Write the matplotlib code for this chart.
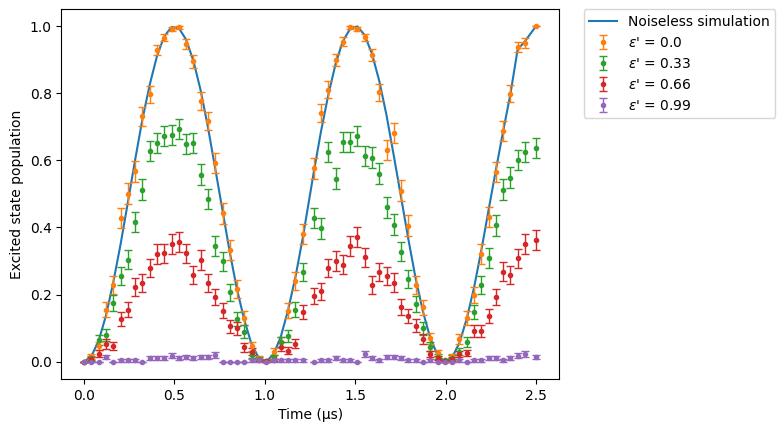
import numpy as np
import matplotlib
matplotlib.use("Agg")
import matplotlib.pyplot as plt

# time points (us)
time_us = [0.000, 0.040, 0.081, 0.121, 0.161, 0.202, 0.242, 0.282, 0.322, 0.363,
           0.403, 0.443, 0.484, 0.524, 0.564, 0.605, 0.645, 0.685, 0.725, 0.766,
           0.806, 0.846, 0.887, 0.927, 0.967, 1.008, 1.048, 1.088, 1.128, 1.169,
           1.209,
           1.270, 1.310, 1.351, 1.391, 1.431, 1.472, 1.512, 1.552, 1.592, 1.633,
           1.673, 1.713, 1.754, 1.794, 1.834, 1.875, 1.915, 1.955, 1.995, 2.036,
           2.076, 2.116, 2.157, 2.197, 2.237, 2.278, 2.318, 2.358, 2.398, 2.439,
           2.500]

noiseless = [0.000, 0.016, 0.063, 0.137, 0.235, 0.350, 0.474, 0.600, 0.720, 0.825,
             0.910, 0.969, 0.997, 0.994, 0.960, 0.896, 0.808, 0.699, 0.577, 0.450,
             0.326, 0.215, 0.123, 0.051, 0.011, 0.001, 0.022, 0.074, 0.153, 0.252,
             0.367,
             0.563, 0.685, 0.795, 0.887, 0.955, 0.992, 0.999, 0.973, 0.918, 0.836,
             0.734, 0.614, 0.488, 0.364, 0.248, 0.148, 0.070, 0.020, 0.000, 0.013,
             0.056, 0.127, 0.221, 0.331, 0.451, 0.572, 0.687, 0.797, 0.930, 0.955,
             1.000]

pop_00 = [0.000, 0.016, 0.047, 0.155, 0.229, 0.428, 0.500, 0.567, 0.731, 0.797,
          0.929, 0.965, 0.990, 0.996, 0.947, 0.895, 0.777, 0.717, 0.592, 0.442,
          0.333, 0.216, 0.130, 0.046, 0.011, 0.002, 0.030, 0.060, 0.152, 0.241,
          0.380,
          0.576, 0.740, 0.810, 0.899, 0.953, 0.996, 0.990, 0.966, 0.914, 0.803,
          0.631, 0.681, 0.509, 0.405, 0.229, 0.162, 0.070, 0.026, 0.001, 0.016,
          0.068, 0.131, 0.199, 0.321, 0.431, 0.565, 0.688, 0.798, 0.938, 0.950,
          1.000]
err_00 = [0.000, 0.008, 0.013, 0.023, 0.026, 0.031, 0.031, 0.031, 0.028, 0.025,
          0.016, 0.011, 0.006, 0.004, 0.014, 0.019, 0.026, 0.028, 0.031, 0.031,
          0.029, 0.026, 0.021, 0.013, 0.007, 0.003, 0.011, 0.015, 0.022, 0.027,
          0.030,
          0.031, 0.027, 0.025, 0.019, 0.013, 0.004, 0.006, 0.011, 0.018, 0.025,
          0.030, 0.029, 0.031, 0.031, 0.026, 0.023, 0.016, 0.010, 0.002, 0.008,
          0.016, 0.021, 0.025, 0.029, 0.031, 0.031, 0.029, 0.025, 0.015, 0.014,
          0.000]

pop_33 = [0.000, 0.010, 0.065, 0.080, 0.175, 0.256, 0.304, 0.416, 0.512, 0.628,
          0.651, 0.673, 0.676, 0.693, 0.648, 0.652, 0.557, 0.485, 0.345, 0.299,
          0.207, 0.128, 0.090, 0.021, 0.009, 0.003, 0.014, 0.060, 0.077, 0.155,
          0.267,
          0.428, 0.398, 0.626, 0.545, 0.655, 0.655, 0.673, 0.613, 0.608, 0.560,
          0.460, 0.408, 0.328, 0.247, 0.172, 0.100, 0.045, 0.015, 0.005, 0.012,
          0.030, 0.059, 0.148, 0.228, 0.309, 0.407, 0.512, 0.548, 0.601, 0.624,
          0.636]
err_33 = [0.000, 0.006, 0.015, 0.017, 0.024, 0.027, 0.029, 0.031, 0.031, 0.030,
          0.030, 0.029, 0.029, 0.029, 0.030, 0.030, 0.031, 0.031, 0.030, 0.029,
          0.025, 0.021, 0.018, 0.009, 0.006, 0.003, 0.007, 0.015, 0.017, 0.023,
          0.028,
          0.031, 0.031, 0.030, 0.031, 0.030, 0.030, 0.029, 0.030, 0.031, 0.031,
          0.031, 0.031, 0.029, 0.027, 0.024, 0.019, 0.013, 0.008, 0.004, 0.007,
          0.011, 0.015, 0.022, 0.026, 0.029, 0.031, 0.031, 0.031, 0.031, 0.030,
          0.030]

pop_66 = [0.000, 0.008, 0.024, 0.053, 0.047, 0.128, 0.155, 0.223, 0.235, 0.279,
          0.321, 0.323, 0.350, 0.357, 0.323, 0.259, 0.303, 0.234, 0.193, 0.152,
          0.105, 0.099, 0.043, 0.030, 0.005, 0.003, 0.005, 0.045, 0.033, 0.054,
          0.148,
          0.196, 0.210, 0.279, 0.300, 0.289, 0.345, 0.372, 0.311, 0.228, 0.267,
          0.255, 0.236, 0.163, 0.136, 0.107, 0.068, 0.022, 0.011, 0.003, 0.008,
          0.022, 0.026, 0.091, 0.091, 0.137, 0.193, 0.268, 0.258, 0.308, 0.350,
          0.362]
err_66 = [0.000, 0.006, 0.010, 0.014, 0.013, 0.021, 0.023, 0.026, 0.026, 0.028,
          0.029, 0.029, 0.030, 0.030, 0.029, 0.027, 0.029, 0.026, 0.025, 0.022,
          0.019, 0.019, 0.013, 0.011, 0.004, 0.003, 0.004, 0.013, 0.011, 0.014,
          0.022,
          0.025, 0.025, 0.028, 0.029, 0.028, 0.030, 0.030, 0.029, 0.026, 0.028,
          0.027, 0.027, 0.023, 0.021, 0.019, 0.016, 0.009, 0.007, 0.003, 0.006,
          0.009, 0.010, 0.018, 0.018, 0.021, 0.025, 0.028, 0.027, 0.029, 0.030,
          0.030]

pop_99 = [0.000, 0.000, 0.000, 0.014, 0.000, 0.004, 0.004, 0.004, 0.000, 0.010,
          0.010, 0.010, 0.018, 0.010, 0.014, 0.010, 0.014, 0.014, 0.019, 0.000,
          0.000, 0.000, 0.000, 0.004, 0.004, 0.000, 0.004, 0.004, 0.004, 0.004,
          0.004,
          0.000, 0.004, 0.004, 0.010, 0.004, 0.004, 0.000, 0.023, 0.010, 0.004,
          0.014, 0.014, 0.010, 0.004, 0.004, 0.000, 0.004, 0.000, 0.000, 0.000,
          0.004, 0.000, 0.004, 0.004, 0.010, 0.010, 0.004, 0.010, 0.018, 0.023,
          0.014]
err_99 = [0.000, 0.000, 0.000, 0.007, 0.000, 0.004, 0.004, 0.004, 0.000, 0.006,
          0.006, 0.006, 0.008, 0.006, 0.007, 0.006, 0.007, 0.007, 0.009, 0.000,
          0.000, 0.000, 0.000, 0.004, 0.004, 0.000, 0.004, 0.004, 0.004, 0.004,
          0.004,
          0.000, 0.004, 0.004, 0.006, 0.004, 0.004, 0.000, 0.009, 0.006, 0.004,
          0.007, 0.007, 0.006, 0.004, 0.004, 0.000, 0.004, 0.000, 0.000, 0.000,
          0.004, 0.000, 0.004, 0.004, 0.006, 0.006, 0.004, 0.006, 0.008, 0.009,
          0.007]

eps_labels = ["0.0", "0.33", "0.66", "0.99"]
series = [(pop_00, err_00, "C1"), (pop_33, err_33, "C2"),
          (pop_66, err_66, "C3"), (pop_99, err_99, "C4")]

fig = plt.figure(figsize=(7.83, 4.32), dpi=100)
ax = fig.add_axes([0.0785, 0.123, 0.635, 0.8556])

ax.plot(time_us, noiseless, color="C0", linewidth=1.5, label="Noiseless simulation")
for (pop, err, col), lab in zip(series, eps_labels):
    ax.errorbar(time_us, pop, yerr=err, fmt=".", color=col, capsize=3,
                elinewidth=1, capthick=1, label=r"$\epsilon$' = " + lab)

ax.set_xlabel("Time (µs)")
ax.set_ylabel("Excited state population")
ax.legend(bbox_to_anchor=(1.05, 1), loc="upper left", borderaxespad=0.)

fig.savefig("out.png", dpi=100)
